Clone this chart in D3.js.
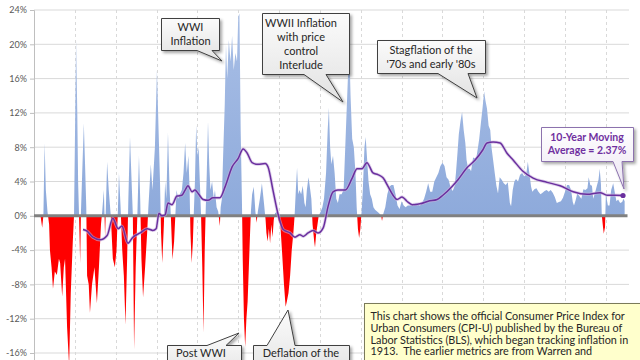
<!DOCTYPE html>
<html>
<head>
<meta charset="utf-8">
<script src="https://cdn.jsdelivr.net/npm/d3@7"></script>
<style>
  html, body { margin: 0; padding: 0; background: #ffffff; }
  svg { display: block; }
</style>
</head>
<body>
<svg id="chart" width="640" height="360"></svg>
<script>
// ---------------- DATA ----------------
const years = [
  1871.6,1872.0,1872.3,1872.6,1872.9,1873.3,1873.7,1873.9,1874.3,1874.65,1875.1,1875.6,1876.1,1876.4,1876.9,1877.3,1877.6,1878.1,1878.6,1879.0,1879.5,1879.8,
  1880.0,1880.3,1880.6,1880.8,1881.0,1881.3,1881.5,1881.8,1882.2,1882.5,1882.8,1883.0,1883.4,1883.7,1884.2,1884.8,1885.4,1885.9,1886.4,1886.7,1887.1,1887.4,1887.9,1888.3,1888.8,1889.3,1889.8,
  1890.2,1890.5,1890.8,1891.2,1891.6,1892.0,1892.4,1892.8,1893.1,1893.5,1893.9,1894.2,1894.5,1894.9,1895.3,1895.7,1896.0,1896.3,1896.7,1897.2,1897.7,1898.0,1898.6,1899.0,1899.6,
  1900.1,1900.5,1900.85,1901.1,1901.4,1901.8,1902.1,1902.4,1902.8,1903.2,1903.5,1903.9,1904.3,1904.6,1904.9,1905.3,1905.7,1906.2,1906.6,1907.0,1907.4,1907.8,1908.1,1908.3,1908.6,1908.9,1909.1,1909.4,1909.7,
  1910.0,1910.3,1910.6,1910.9,1911.2,1911.5,1911.8,1912.0,1912.3,1912.6,1912.9,1913.2,1913.6,1914.0,1914.3,1914.7,1915.1,1915.5,1915.7,1916.0,1916.3,1916.7,1917.0,1917.3,1917.7,1918.1,1918.5,1918.9,1919.3,1919.7,
  1920.0,1920.3,1920.6,1920.9,1921.1,1921.4,1921.7,1922.0,1922.3,1922.6,1922.9,1923.1,1923.4,1923.8,1924.2,1924.5,1924.8,1925.3,1925.8,1926.3,1926.7,1926.9,1927.2,1927.5,1927.8,1928.1,1928.4,1928.7,1929.0,1929.5,1929.8,
  1930.3,1930.7,1931.2,1931.6,1931.9,1932.3,1932.7,1933.1,1933.5,1933.8,1934.1,1934.4,1934.7,1935.0,1935.4,1935.8,1936.2,1936.5,1936.8,1937.2,1937.5,1937.9,1938.2,1938.6,1938.8,1939.1,1939.4,1939.7,
  1940.2,1940.6,1941.0,1941.5,1941.9,1942.2,1942.5,1942.8,1943.2,1943.6,1944.0,1944.4,1944.8,1945.3,1945.8,1946.2,1946.6,1947.0,1947.2,1947.5,1947.9,1948.3,1948.7,1949.0,1949.3,1949.6,1949.9,
  1950.2,1950.5,1950.9,1951.2,1951.5,1951.9,1952.3,1952.7,1953.1,1953.5,1954.0,1954.5,1955.0,1955.2,1955.5,1956.0,1956.5,1957.0,1957.5,1958.0,1958.5,1959.0,1959.5,
  1960.0,1960.5,1961.0,1961.5,1962.0,1962.5,1963.0,1963.5,1964.0,1964.5,1965.0,1965.5,1966.0,1966.5,1967.0,1967.5,1968.0,1968.5,1969.0,1969.5,
  1970.0,1970.5,1971.0,1971.5,1972.0,1972.5,1973.0,1973.3,1973.7,1974.0,1974.4,1974.8,1975.2,1975.6,1975.9,1976.3,1976.7,1977.0,1977.5,1977.9,1978.3,1978.7,1979.0,1979.4,1979.8,
  1980.2,1980.5,1980.9,1981.3,1981.7,1982.0,1982.4,1982.8,1983.2,1983.6,1984.0,1984.5,1985.0,1985.5,1986.0,1986.5,1986.8,1987.2,1987.6,1988.0,1988.5,1989.0,1989.5,
  1990.0,1990.5,1990.9,1991.3,1991.7,1992.0,1992.5,1993.0,1993.5,1994.0,1994.5,1995.0,1995.5,1996.0,1996.5,1997.0,1997.5,1998.0,1998.5,1999.0,1999.5,
  2000.0,2000.5,2001.0,2001.5,2001.9,2002.2,2002.6,2003.0,2003.5,2004.0,2004.5,2005.0,2005.5,2005.8,2006.2,2006.6,2006.9,2007.3,2007.8,2008.2,2008.5,2008.8,2009.0,2009.3,2009.5,2009.8,
  2010.0,2010.5,2010.9,2011.3,2011.8,2012.2,2012.6,2013.0,2013.5,2014.0,2014.3,2014.6
];
const inflation = [
  0,-1.4,0,8.5,3,0.5,-1,-4,-6,-8.5,-6.5,-6.9,-5,-5.5,-9.4,-6,-5,-13,-17.5,-9,-3,0,
  8,20.5,12,4,0.5,-5.5,0.5,5,10.8,6,1,-7,-8,-11.3,-8,-6,-10.2,-6,-1,0.5,3,-2.5,6.3,3,0,-5,-6,
  -4,0,5,1,-4,-7,-12.7,-5,2,9.2,4,0,-15.6,-6,0,7,2,-5,-9.5,-6,-2,1,6,3,8,
  17,10,4,-2,-5.5,-1,4,2,9.7,3,0,-5.1,-3,0,3,2,2.5,3,5,8.5,5,7,3,-2,-5.5,-3,0,4,10.6,
  7,8,4,0,-6,-13.6,-4,0,5,11,6,3,4,2,3,1,0.5,-1.2,1,2,7,13,20,16,20.5,18,21,17,19,18,
  23.2,23.6,10,2,-5,-12,-15.3,-12,-10,-6,-2,0.5,2.5,3.4,0.5,-0.8,0.5,2,3.8,1.5,-0.5,-2,-3,-1.5,-3.2,-1,-2.5,-0.5,0.3,0.5,-0.5,
  -1,-4,-8,-10.6,-10,-9,-7,-4,-2,0,3,5.6,2.5,3,2.5,3.5,1.5,1,3,4.5,3.5,2,-1,-3,-3.7,-2,-1,0,
  0.5,1,2,5,10,12.6,8,6,7,5,2,1.5,2.5,2.5,3,8,13,18,19.5,14,9,8,5,1,-1.5,-2.6,-1.5,
  0.5,3,8,9.2,7,4,2.5,2,1,0.7,0.5,0.3,0,-0.6,0.2,1,2.5,3.4,3.6,3.6,2.5,1.2,0.8,
  1.7,1.2,1,1.2,1.2,1.3,1.2,1.5,1.3,1.2,1.5,2,2.8,3.8,2.8,2.8,4,4.5,5,5.8,
  6.2,5.8,4.5,4.2,3.3,2.9,3.5,5,7.5,9.5,11,12.1,10,8.5,6.5,5.5,5.5,5.2,6.8,6.7,6.8,8,9,10.8,12.5,
  14.5,13.5,12.5,10.5,10,8,6.5,5,3.5,2.6,4.5,4.2,3.8,3.6,3.9,1.5,1.1,3,4,4.3,4,4.8,5,
  4.6,4.8,6.3,4.9,3.4,2.8,3.1,3.2,2.8,2.5,2.7,2.9,3,2.8,3,2.7,2.2,1.5,1.6,1.7,2.1,
  2.8,3.6,3.6,3,1.6,1.2,1.8,2.6,2.3,2,3.1,3,3.2,4.5,3.6,3.5,2,2.6,3.5,4.2,5.5,3.7,0.1,-1.3,-2.1,-1.3,
  2.5,1.2,1.2,3,3.8,2.7,1.7,1.9,1.5,1.6,2.0,1.7
];
const maYears = [
  1882.0,1883.0,1884.4,1886.2,1887.9,1889.3,1890.6,1891.5,1893.0,1894.2,1896.0,1897.7,1899.1,1899.9,1900.6,1901.3,1902.1,1902.8,1903.8,1905.0,1906.2,1907.0,1907.7,1908.7,1909.4,1910.2,1911.4,1912.6,1913.8,1915.5,1916.8,1918.5,1920.0,1921.2,1922.2,1923.4,1924.8,1926.6,1927.3,1928.5,1929.7,
  1931.0,1932.7,1933.9,1935.1,1935.9,1937.1,1938.3,1939.5,1940.8,1942.0,1943.2,1944.4,1946.2,1947.9,1949.1,1950.3,1951.5,1953.0,1954.2,1955.5,1956.7,1957.9,1958.9,1960.1,1961.3,1962.6,1964.5,1966.5,1968.7,1970.1,1972.3,1973.8,1976.0,1978.0,1979.9,
  1980.9,1982.4,1984.1,1985.8,1987.3,1989.7,1992.2,1995.6,1998.8,2002.0,2005.4,2008.6,2010.3,2012.3,2014.2
];
const movingAvg = [
  -1.6,-1.8,-2.5,-2.8,-2.3,-0.3,-1.5,-1.2,-3.2,-2.5,-2.0,-1.5,-1.7,-1.5,0.3,0.0,0.1,1.5,1.3,2.3,2.4,3.0,3.5,2.8,3.0,2.6,1.9,1.8,2.1,2.1,3.4,5.7,6.7,7.8,7.3,6.2,6.0,6.1,5.7,3.0,0.3,
  -1.6,-2.0,-2.5,-2.2,-2.4,-2.0,-1.7,-2.0,-1.4,1.1,2.8,3.0,3.0,4.4,5.5,5.5,6.2,5.0,4.8,4.4,3.4,2.4,1.9,2.2,1.7,1.3,1.4,1.7,1.9,2.4,3.4,4.2,5.6,6.5,7.7,
  8.5,8.6,8.5,7.3,6.5,5.2,4.4,3.9,3.5,2.8,2.5,2.7,2.4,2.4,2.37
];
const yTicks = [-16,-12,-8,-4,0,4,8,12,16,20,24];
const decadeYears = [1880,1890,1900,1910,1920,1930,1940,1950,1960,1970,1980,1990,2000,2010];
const wwiLabel = ["WWI", "Inflation"];
const wwiiLabel = ["WWII Inflation", "with price", "control", "Interlude"];
const stagLabel = ["Stagflation of the", "'70s and early '80s"];
const maLabel = ["10-Year Moving", "Average = 2.37%"];
const postWwiLabel = ["Post WWI"];
const deflationLabel = ["Deflation of the"];
const noteLines = [
  "This chart shows the official Consumer Price Index for",
  "Urban Consumers (CPI-U) published by the Bureau of",
  "Labor Statistics (BLS), which began tracking inflation in",
  "1913.  The earlier metrics are from Warren and"
];

// ---------------- DRAWING ----------------
const svg = d3.select("#chart");
const FONT = "Lato, 'Open Sans', 'DejaVu Sans', sans-serif";

const x = d3.scaleLinear().domain([1870, 2015.3]).range([34, 627.5]);
const y = d3.scaleLinear().domain([-20, 24]).range([387.3, 10]);
const plotL = 34, plotR = 629, plotT = 10, plotB = 400;

const defs = svg.append("defs");
defs.append("clipPath").attr("id", "clipPos").append("rect")
  .attr("x", 0).attr("y", 0).attr("width", 640).attr("height", y(0));
defs.append("clipPath").attr("id", "clipNeg").append("rect")
  .attr("x", 0).attr("y", y(0)).attr("width", 640).attr("height", 400);

const shadow = defs.append("filter").attr("id", "shadow")
  .attr("x", "-20%").attr("y", "-20%").attr("width", "150%").attr("height", "150%");
shadow.append("feDropShadow").attr("dx", 2).attr("dy", 2).attr("stdDeviation", 1.6)
  .attr("flood-color", "#000").attr("flood-opacity", 0.35);

const gGray = defs.append("linearGradient").attr("id", "gGray").attr("x1", 0).attr("y1", 0).attr("x2", 0).attr("y2", 1);
gGray.append("stop").attr("offset", "0%").attr("stop-color", "#fbfbfb");
gGray.append("stop").attr("offset", "100%").attr("stop-color", "#e2e2e2");
const gPurp = defs.append("linearGradient").attr("id", "gPurp").attr("x1", 0).attr("y1", 0).attr("x2", 0).attr("y2", 1);
gPurp.append("stop").attr("offset", "0%").attr("stop-color", "#ffffff");
gPurp.append("stop").attr("offset", "100%").attr("stop-color", "#ebe4f2");
const gBlue = defs.append("linearGradient").attr("id", "gBlue").attr("gradientUnits", "userSpaceOnUse")
  .attr("x1", 0).attr("y1", y(24)).attr("x2", 0).attr("y2", y(0));
gBlue.append("stop").attr("offset", "0%").attr("stop-color", "#a9bfe6");
gBlue.append("stop").attr("offset", "100%").attr("stop-color", "#8eaadb");

// horizontal gridlines
svg.append("g").selectAll("line").data(yTicks.filter(d => d !== 0)).join("line")
  .attr("x1", plotL).attr("x2", plotR)
  .attr("y1", d => y(d)).attr("y2", d => y(d))
  .attr("stroke", "#d9d9d9").attr("stroke-width", 1);

// vertical dashed gridlines
svg.append("g").selectAll("line").data(decadeYears).join("line")
  .attr("x1", d => Math.round(x(d)) + 0.5).attr("x2", d => Math.round(x(d)) + 0.5)
  .attr("y1", plotT).attr("y2", plotB)
  .attr("stroke", "#d9d9d9").attr("stroke-width", 1).attr("stroke-dasharray", "3,3");

// y axis
const yAxis = d3.axisLeft(y).tickValues(yTicks).tickSize(4).tickPadding(3)
  .tickFormat(d => d + "%");
const ga = svg.append("g").attr("transform", `translate(${plotL},0)`).call(yAxis);
ga.select(".domain").attr("stroke", "#bfbfbf");
ga.selectAll(".tick line").attr("stroke", "#bfbfbf");
ga.selectAll(".tick text").attr("fill", "#595959").attr("font-family", FONT).attr("font-size", 9);

// inflation areas
const series = years.map((yr, i) => ({ yr, v: inflation[i] }));
const area = d3.area().x(d => x(d.yr)).y0(y(0)).y1(d => y(d.v));
svg.append("path").datum(series).attr("d", area)
  .attr("fill", "url(#gBlue)").attr("clip-path", "url(#clipPos)");
svg.append("path").datum(series).attr("d", area)
  .attr("fill", "#ff0000").attr("clip-path", "url(#clipNeg)");

// zero line
svg.append("line").attr("x1", plotL).attr("x2", 627.5)
  .attr("y1", y(0)).attr("y2", y(0))
  .attr("stroke", "#808080").attr("stroke-width", 3);

// moving average line
const ma = maYears.map((yr, i) => ({ yr, v: movingAvg[i] }));
const line = d3.line().x(d => x(d.yr)).y(d => y(d.v)).curve(d3.curveMonotoneX);
svg.append("path").datum(ma).attr("d", line)
  .attr("fill", "none").attr("stroke", "#c9b3de").attr("stroke-width", 3.2).attr("stroke-opacity", 0.6);
svg.append("path").datum(ma).attr("d", line)
  .attr("fill", "none").attr("stroke", "#6a2f9e").attr("stroke-width", 1.5);
const last = ma[ma.length - 1];
svg.append("circle").attr("cx", x(last.yr)).attr("cy", y(last.v)).attr("r", 2.6).attr("fill", "#6a2f9e");

// ---------------- CALLOUTS ----------------
function calloutPath(x0, y0, x1, y1, edge, b1, b2, tx, ty) {
  if (edge === "bottom")
    return `M${x0},${y0}H${x1}V${y1}H${b2}L${tx},${ty}L${b1},${y1}H${x0}Z`;
  return `M${x0},${y0}H${b1}L${tx},${ty}L${b2},${y0}H${x1}V${y1}H${x0}Z`;
}
function callout(opts) {
  const g = svg.append("g");
  g.append("path")
    .attr("d", calloutPath(opts.x0, opts.y0, opts.x1, opts.y1, opts.edge, opts.b1, opts.b2, opts.tx, opts.ty))
    .attr("fill", opts.fill).attr("stroke", opts.stroke).attr("stroke-width", 1)
    .attr("filter", "url(#shadow)");
  g.selectAll("text").data(opts.lines).join("text")
    .attr("x", opts.cx).attr("y", (d, i) => opts.ty0 + i * opts.lh)
    .attr("text-anchor", "middle")
    .attr("font-family", FONT).attr("font-size", opts.fs)
    .attr("font-weight", opts.bold ? "bold" : "normal")
    .attr("fill", opts.color)
    .text(d => d);
}

callout({ x0: 161.5, y0: 18.5, x1: 219.5, y1: 50.5, edge: "bottom", b1: 197, b2: 212, tx: 222, ty: 61,
  fill: "url(#gGray)", stroke: "#404040", lines: wwiLabel, cx: 190.5, ty0: 31, lh: 14, fs: 11, color: "#262626" });
callout({ x0: 262.5, y0: 13.5, x1: 349.5, y1: 74.5, edge: "bottom", b1: 304, b2: 326, tx: 343, ty: 102,
  fill: "url(#gGray)", stroke: "#404040", lines: wwiiLabel, cx: 301, ty0: 27, lh: 14, fs: 11, color: "#262626" });
callout({ x0: 377.5, y0: 40.5, x1: 485.5, y1: 73.5, edge: "bottom", b1: 438, b2: 468, tx: 477, ty: 98,
  fill: "url(#gGray)", stroke: "#404040", lines: stagLabel, cx: 431, ty0: 54, lh: 14, fs: 11, color: "#262626" });
callout({ x0: 541.5, y0: 127.5, x1: 633.5, y1: 161.5, edge: "bottom", b1: 613, b2: 622, tx: 624, ty: 189,
  fill: "url(#gPurp)", stroke: "#8c72ad", lines: maLabel, cx: 587, ty0: 140.5, lh: 13, fs: 10.5, color: "#7030a0", bold: true });
callout({ x0: 167.5, y0: 345.5, x1: 241.5, y1: 380, edge: "top", b1: 207, b2: 226, tx: 239, ty: 333,
  fill: "url(#gGray)", stroke: "#404040", lines: postWwiLabel, cx: 201, ty0: 357, lh: 14, fs: 11, color: "#262626" });
callout({ x0: 253.5, y0: 345.5, x1: 349.5, y1: 380, edge: "top", b1: 267, b2: 295, tx: 288, ty: 310,
  fill: "url(#gGray)", stroke: "#404040", lines: deflationLabel, cx: 301, ty0: 357, lh: 14, fs: 11, color: "#262626" });

// note box
const note = svg.append("g");
note.append("rect").attr("x", 364.5).attr("y", 303.5).attr("width", 290).attr("height", 80)
  .attr("fill", "#ffffcc").attr("stroke", "#7a7a5a").attr("stroke-width", 1).attr("filter", "url(#shadow)");
note.selectAll("text").data(noteLines).join("text")
  .attr("x", 370.5).attr("y", (d, i) => 320 + i * 11.8)
  .attr("font-family", FONT).attr("font-size", 10.8).attr("fill", "#262626")
  .attr("xml:space", "preserve").style("white-space", "pre")
  .text(d => d);
</script>
</body>
</html>
